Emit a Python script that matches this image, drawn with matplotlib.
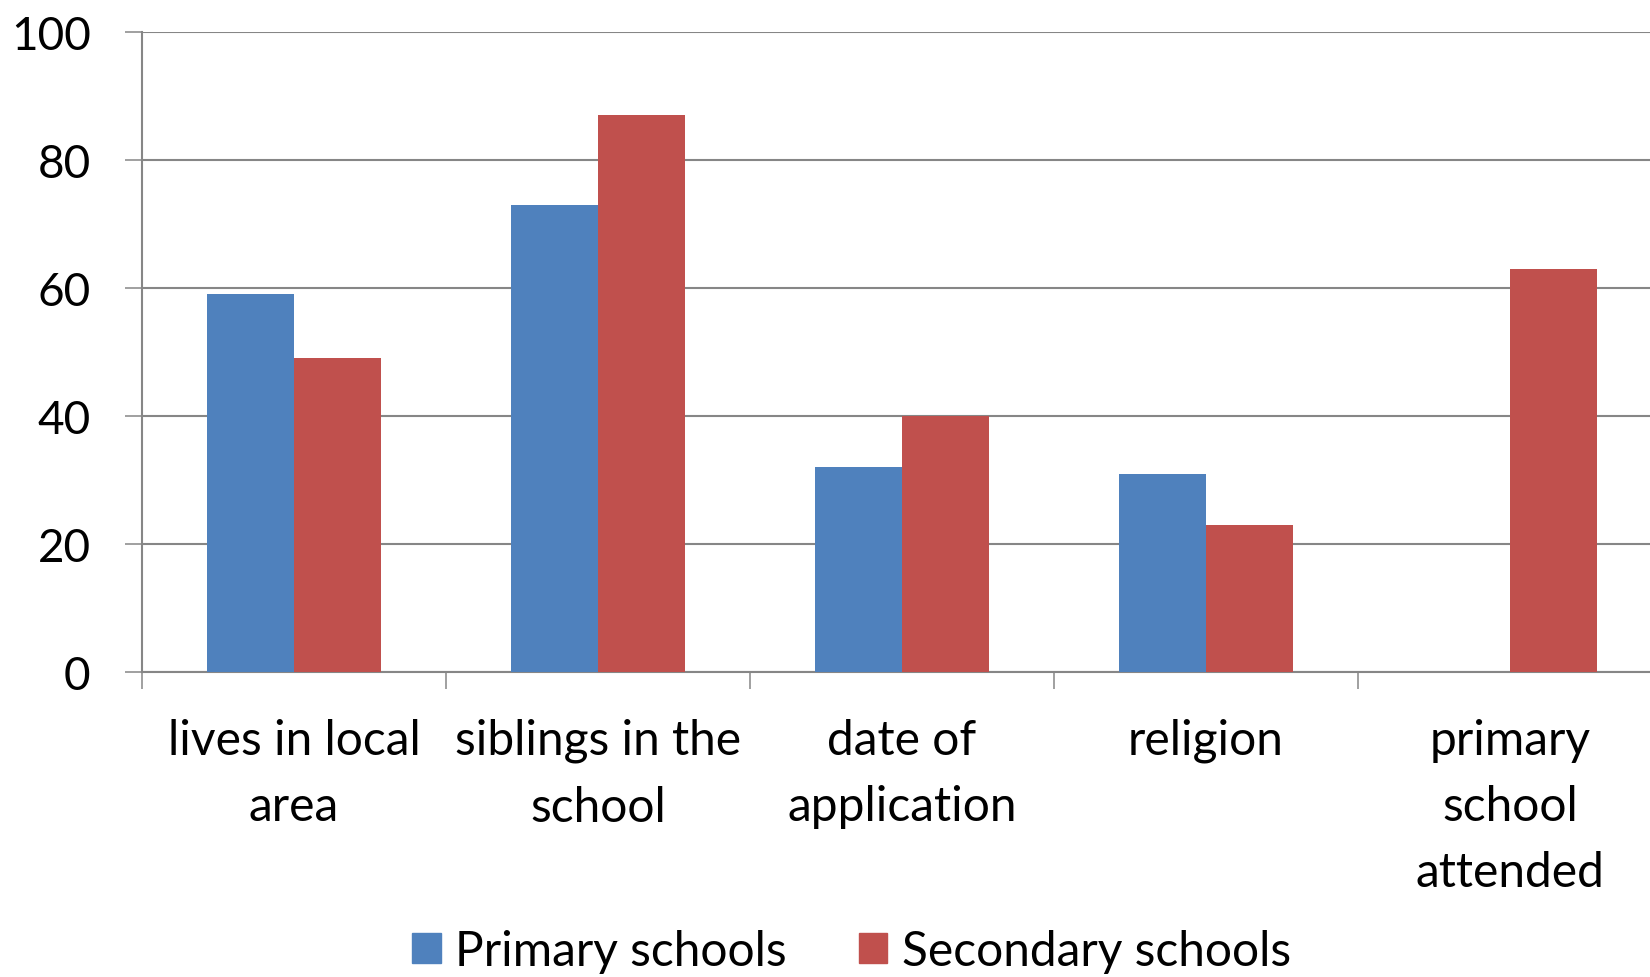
import matplotlib
matplotlib.use("Agg")
import matplotlib.pyplot as plt
from matplotlib.patches import Patch
import numpy as np

plt.rcParams["font.family"] = ["Lato", "DejaVu Sans"]

# admission criteria, percent of schools using each
categories = ["lives in local\narea", "siblings in the\nschool", "date of\napplication",
              "religion", "primary\nschool\nattended"]
primary = [59, 73, 32, 31, 0]
secondary = [49, 87, 40, 23, 63]
series_names = ["Primary schools", "Secondary schools"]
yticks = [0, 20, 40, 60, 80, 100]

blue = "#4F81BD"
red = "#C0504D"
grey = "#868686"

fig = plt.figure(figsize=(16.5, 9.78), dpi=100)
# plot area runs a little past the right edge of the image
ax = fig.add_axes([142 / 1650, 1 - 673 / 978, 1520 / 1650, (673 - 33) / 978])

x = np.arange(len(categories))
w = 0.2857
ax.bar(x - w / 2, primary, w, color=blue, zorder=3)
ax.bar(x + w / 2, secondary, w, color=red, zorder=3)

ax.set_xlim(-0.5, len(categories) - 0.5)
ax.set_ylim(0, 100)
ax.set_yticks(yticks)
ax.set_yticklabels([str(v) for v in yticks])
ax.yaxis.grid(True, color=grey, linewidth=1.5, zorder=0)

ax.set_xticks(x)
ax.set_xticklabels(categories, linespacing=1.62)
ax.set_xticks(np.arange(len(categories) + 1) - 0.5, minor=True)

for s in ["top", "right"]:
    ax.spines[s].set_visible(False)
for s in ["left", "bottom"]:
    ax.spines[s].set_color(grey)
    ax.spines[s].set_linewidth(1.5)

ax.tick_params(axis="y", length=12, width=1.1, color=grey, pad=25, labelsize=33)
ax.tick_params(axis="x", which="major", length=0, pad=33, labelsize=34.5)
ax.tick_params(axis="x", which="minor", length=12, width=1.1, color=grey)

handles = [Patch(color=blue), Patch(color=red)]
fig.legend(handles, series_names, loc="lower center", bbox_to_anchor=(0.516, -0.04),
           ncol=2, frameon=False, fontsize=34.5, handlelength=0.6, handleheight=0.6,
           handletextpad=0.3, columnspacing=1.5)

fig.savefig("out.png", dpi=100)
